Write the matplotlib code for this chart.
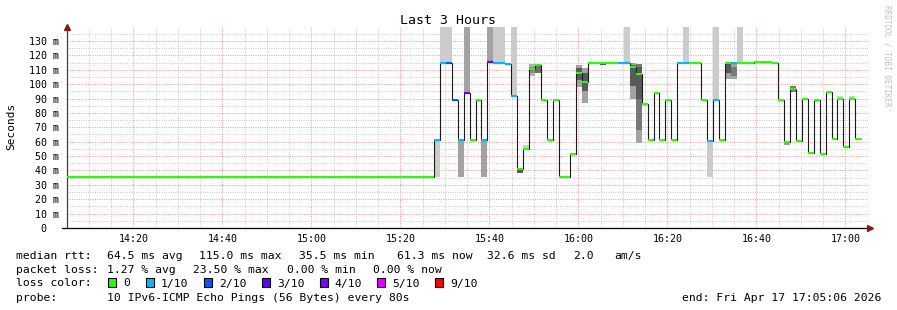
import numpy as np
import matplotlib
matplotlib.use('Agg')
import matplotlib.pyplot as plt
from matplotlib.patches import Rectangle

# graph covers 3 hours, ending 17:05:06
start_clock = 14 * 60 + 5 + 6 / 60.0
span_min = 180.0
step_min = 80 / 60.0  # one probe every 80s

# flat part at the beginning (median rtt in ms)
flat_end = 82.47
flat_rtt = 35.5

# median rtt per 80s step after the flat part (ms)
median = [61.2, 115, 115, 89, 61.2, 94, 61.2, 89, 61.2, 115.2,
          114.9, 114.9, 114.2, 91.8, 41, 55, 110.5, 113.5, 89, 61.2,
          89, 35.5, 35.5, 51.2, 107.5, 101.7, 114.4, 114.4, 114.4, 114.4,
          114.4, 114.4, 114.4, 111.7, 107, 86.2, 61.2, 93.6, 61.2, 89,
          61.2, 115, 115, 115, 115, 89, 60.5, 89, 61.2, 114.4,
          114.4, 114.9, 115, 115, 115.5, 115.5, 115.5, 115, 89, 60,
          96.6, 60.5, 89.7, 52.4, 89, 51.7, 94.8, 61.6, 89.7, 56.5,
          89.7, 61.6]

# lost pings (out of 10) per step
loss = [1, 1, 2, 2, 1, 3, 0, 0, 1, 3,
        1, 1, 1, 1, 0, 0, 0, 0, 0, 0,
        0, 0, 0, 0, 0, 0, 0, 0, 0, 0,
        0, 1, 1, 0, 0, 0, 0, 0, 0, 0,
        0, 1, 1, 0, 0, 0, 1, 1, 0, 0,
        1, 0, 0, 0, 0, 0, 0, 0, 0, 0,
        0, 0, 0, 0, 0, 0, 0, 0, 0, 0,
        0, 0]

# smoke (spread of the single pings), per step: low, high, shade
smoke_step = [0, 1, 2, 4, 5, 8, 9, 10, 11, 13, 14, 15, 16, 16, 17,
              24, 24, 25, 25, 28, 32, 33, 33, 34, 34, 34, 42, 46, 47,
              49, 49, 50, 50, 51, 59, 60, 68, 70]
smoke_lo = [35.5, 115, 115, 35.5, 94, 35.5, 115, 115, 115, 91.8, 38.5, 55, 106, 108, 108,
            98, 103, 87, 95, 113, 115, 89.7, 99, 59.3, 68, 90, 115, 35.5, 89,
            103.4, 108, 103.4, 106, 115, 57.5, 94.8, 89.7, 89.7]
smoke_hi = [61.2, 140, 140, 61.2, 140, 61.2, 140, 140, 140, 140, 41, 57.5, 114, 112, 114,
            113, 111, 111, 108, 114.4, 140, 114.7, 113, 68, 114, 112, 140, 60.5, 140,
            114.4, 114, 114.4, 112, 140, 60, 98.7, 91.5, 91.5]
smoke_shade = ['#cbcbcb', '#cbcbcb', '#cbcbcb', '#a3a3a3', '#a3a3a3', '#a3a3a3', '#a3a3a3',
               '#cbcbcb', '#cbcbcb', '#cbcbcb', '#5a5a5a', '#cbcbcb', '#b0b0b0', '#888888',
               '#707070', '#a3a3a3', '#5a5a5a', '#a3a3a3', '#5a5a5a', '#5a5a5a', '#cbcbcb',
               '#a3a3a3', '#5a5a5a', '#a3a3a3', '#787878', '#5a5a5a', '#cbcbcb', '#cbcbcb',
               '#cbcbcb', '#a3a3a3', '#5a5a5a', '#a3a3a3', '#787878', '#cbcbcb', '#a3a3a3',
               '#787878', '#cbcbcb', '#cbcbcb']

loss_labels = ['0', '1/10', '2/10', '3/10', '4/10', '5/10', '9/10']
loss_values = [0, 1, 2, 3, 4, 5, 9]
loss_colors = ['#26ff00', '#00b8ff', '#0059ff', '#5e00ff', '#7e00ff', '#dd00ff', '#ff0000']

tick_times = ['14:20', '14:40', '15:00', '15:20', '15:40', '16:00', '16:20', '16:40', '17:00']
y_ticks = [0, 10, 20, 30, 40, 50, 60, 70, 80, 90, 100, 110, 120, 130]

stats_rtt = ['median rtt:', '64.5 ms avg', '115.0 ms max', '35.5 ms min', '61.3 ms now',
             '32.6 ms sd', '2.0', 'am/s']
stats_loss = ['packet loss:', '1.27 % avg', '23.50 % max', '0.00 % min', '0.00 % now']
probe_text = '10 IPv6-ICMP Echo Pings (56 Bytes) every 80s'
end_text = 'end: Fri Apr 17 17:05:06 2026'

mono = 'DejaVu Sans Mono'
W, H = 897, 310

fig = plt.figure(figsize=(W / 100, H / 100), dpi=100)
fig.patch.set_facecolor('white')
ax = fig.add_axes([67 / W, 1 - 228 / H, (868 - 67) / W, (228 - 26.6) / H])
ax.set_xlim(0, span_min)
ax.set_ylim(0, 140)


def clock_to_min(s):
    h, m = s.split(':')
    return int(h) * 60 + int(m) - start_clock


# grid
major_x = [clock_to_min(t) for t in tick_times]
minor_x = [m for m in np.arange(clock_to_min('14:10'), span_min + 0.01, 5)
           if min(abs(m - mx) for mx in major_x) > 0.1]
ax.set_xticks(major_x)
ax.set_xticks(minor_x, minor=True)
ax.set_xticklabels(tick_times, fontfamily=mono, fontsize=7.2)
ax.set_yticks(y_ticks)
ax.set_yticks(np.arange(5, 140, 10), minor=True)
ax.set_yticklabels(['0  '] + ['%d m' % v for v in y_ticks[1:]], fontfamily=mono, fontsize=7.2)
ax.tick_params(which='both', length=0)
ax.tick_params(axis='y', pad=5.5)
ax.tick_params(axis='x', pad=4.5)
ax.grid(which='minor', color='#cfcfcf', linestyle=(0, (1, 1.2)), linewidth=0.75)
ax.grid(which='major', color='#f2a0a0', linestyle=(0, (1, 1.2)), linewidth=0.75)
ax.set_axisbelow(True)

for s in ['top', 'right']:
    ax.spines[s].set_visible(False)
ax.spines['left'].set_color('#404040')
ax.spines['bottom'].set_color('black')
ax.spines['left'].set_linewidth(0.9)
ax.spines['bottom'].set_linewidth(0.9)

# arrows at axis ends
ax.plot([0], [1.0], marker='^', color='#7f1b1b', markersize=4, transform=ax.transAxes,
        clip_on=False, zorder=6)
ax.plot([1.003], [0], marker='>', color='#7f1b1b', markersize=4, transform=ax.transAxes,
        clip_on=False, zorder=6)
ax.plot([-0.0065, 0], [0, 0], color='black', lw=0.9, transform=ax.transAxes, clip_on=False)

# data
n = len(median)
edges = flat_end + np.arange(n + 1) * step_min

for k, lo, hi, c in zip(smoke_step, smoke_lo, smoke_hi, smoke_shade):
    ax.bar(edges[k], hi - lo, width=step_min, bottom=lo, align='edge', color=c,
           linewidth=0, zorder=2)

all_vals = [flat_rtt] + median
all_edges = np.concatenate([[0], edges])
ax.stairs(all_vals, all_edges, baseline=None, color='#1a1a1a', linewidth=0.8, zorder=3)

ax.hlines([flat_rtt], 0, flat_end, colors=loss_colors[0], linewidth=1.5, zorder=4)
col_of = dict(zip(loss_values, loss_colors))
seg_colors = [col_of[l] for l in loss]
ax.hlines(median, edges[:-1], edges[1:], colors=seg_colors, linewidth=1.5, zorder=4)

# titles
fig.text(448 / W, 1 - 20 / H, 'Last 3 Hours', ha='center', va='center', fontfamily=mono,
         fontsize=9.5)
fig.text(11 / W, 1 - 126 / H, 'Seconds', ha='center', va='center', rotation=90,
         fontfamily=mono, fontsize=8)
fig.text(887 / W, 1 - 5 / H, 'RRDTOOL / TOBI OETIKER', ha='center', va='top', rotation=270,
         fontfamily=mono, fontsize=5.5, color='#c0c0c0')

# legend / stats block, texts placed on their baselines
fs = 8.2
rtt_x = [16, 107, 199, 299, 397, 487, 573, 614]
for s, x in zip(stats_rtt, rtt_x):
    fig.text(x / W, 1 - 259 / H, s, va='baseline', fontfamily=mono, fontsize=fs)
loss_x = [16, 107, 193, 287, 373]
for s, x in zip(stats_loss, loss_x):
    fig.text(x / W, 1 - 273 / H, s, va='baseline', fontfamily=mono, fontsize=fs)

fig.text(16 / W, 1 - 286.5 / H, 'loss color:', va='baseline', fontfamily=mono, fontsize=fs)
box_x = [108, 146, 204, 262, 319.5, 377, 435]
for lab, c, x in zip(loss_labels, loss_colors, box_x):
    fig.add_artist(Rectangle((x / W, 1 - 286.5 / H), 8 / W, 8.5 / H, transform=fig.transFigure,
                             facecolor=c, edgecolor='black', linewidth=0.8))
    fig.text((x + 15) / W, 1 - 286.5 / H, lab, va='baseline', fontfamily=mono, fontsize=fs)

fig.text(16 / W, 1 - 300.7 / H, 'probe:', va='baseline', fontfamily=mono, fontsize=fs)
fig.text(107 / W, 1 - 300.7 / H, probe_text, va='baseline', fontfamily=mono, fontsize=fs)
fig.text(881 / W, 1 - 300.7 / H, end_text, va='baseline', ha='right', fontfamily=mono,
         fontsize=fs)

fig.savefig('out.png', dpi=100)
